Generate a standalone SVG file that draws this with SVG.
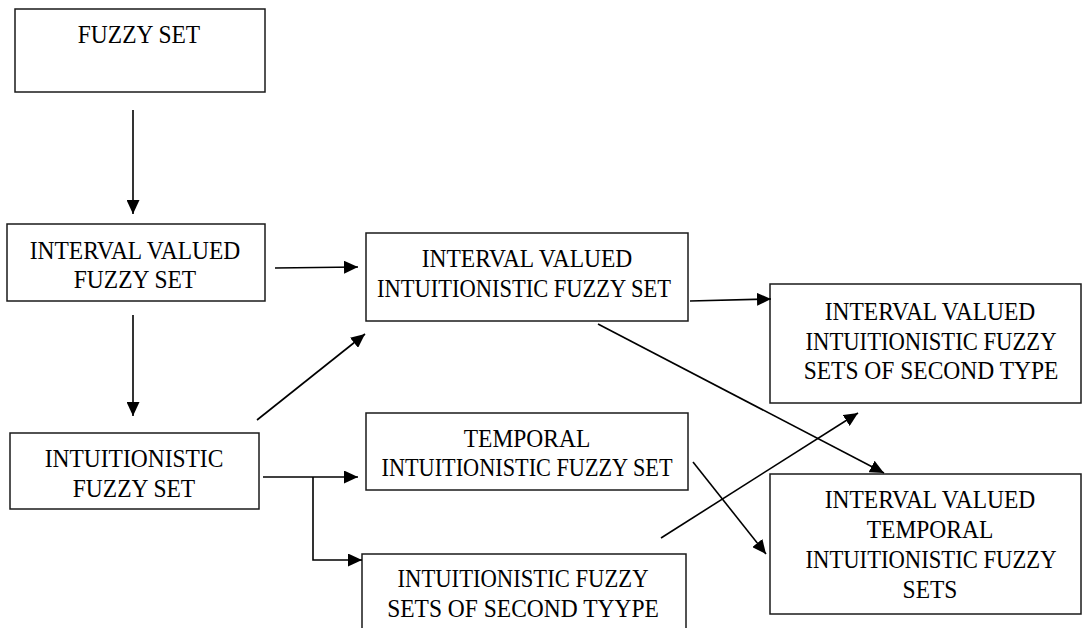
<svg xmlns="http://www.w3.org/2000/svg" width="1083" height="628" viewBox="0 0 1083 628">
<defs>
<marker id="ah" markerUnits="userSpaceOnUse" markerWidth="15" markerHeight="13" refX="14" refY="6.5" orient="auto">
<path d="M0,0 L14,6.5 L0,13 Z" fill="#000"/>
</marker>
<style>
.box{fill:#fff;stroke:#1a1a1a;stroke-width:1.5}
.t{font-family:"Liberation Serif","Times New Roman",serif;font-size:23.5px;fill:#000;text-anchor:middle}
.c{fill:none;stroke:#000;stroke-width:1.6}
.a{fill:none;stroke:#000;stroke-width:1.6;marker-end:url(#ah)}
</style>
</defs>
<rect width="1083" height="628" fill="#fff"/>
<g id="n1">
<rect class="box" x="15" y="9" width="250" height="83"/>
<text class="t" transform="translate(139,43) scale(1,1.1)">FUZZY SET</text>
</g>
<g id="n2">
<rect class="box" x="7" y="224" width="258" height="77"/>
<text class="t" transform="translate(135,259) scale(1,1.1)">INTERVAL VALUED</text>
<text class="t" transform="translate(135,288) scale(1,1.1)">FUZZY SET</text>
</g>
<g id="n3">
<rect class="box" x="10" y="433" width="249" height="76"/>
<text class="t" transform="translate(134,467) scale(1,1.1)">INTUITIONISTIC</text>
<text class="t" transform="translate(134,497) scale(1,1.1)">FUZZY SET</text>
</g>
<g id="n4">
<rect class="box" x="366" y="233" width="322" height="88"/>
<text class="t" transform="translate(527,267) scale(1,1.1)">INTERVAL VALUED</text>
<text class="t" transform="translate(524,297) scale(1,1.1)" textLength="294" lengthAdjust="spacingAndGlyphs">INTUITIONISTIC FUZZY SET</text>
</g>
<g id="n5">
<rect class="box" x="770" y="284" width="311" height="119"/>
<text class="t" transform="translate(930,320) scale(1,1.1)">INTERVAL VALUED</text>
<text class="t" transform="translate(931,350) scale(1,1.1)" textLength="251" lengthAdjust="spacingAndGlyphs">INTUITIONISTIC FUZZY</text>
<text class="t" transform="translate(931,379) scale(1,1.1)">SETS OF SECOND TYPE</text>
</g>
<g id="n6">
<rect class="box" x="770" y="474" width="311" height="140"/>
<text class="t" transform="translate(930,508) scale(1,1.1)">INTERVAL VALUED</text>
<text class="t" transform="translate(930,538) scale(1,1.1)">TEMPORAL</text>
<text class="t" transform="translate(931,568) scale(1,1.1)" textLength="251" lengthAdjust="spacingAndGlyphs">INTUITIONISTIC FUZZY</text>
<text class="t" transform="translate(930,598) scale(1,1.1)">SETS</text>
</g>
<g id="n7">
<rect class="box" x="366" y="413" width="322" height="77"/>
<text class="t" transform="translate(527,447) scale(1,1.1)">TEMPORAL</text>
<text class="t" transform="translate(527,476) scale(1,1.1)" textLength="291" lengthAdjust="spacingAndGlyphs">INTUITIONISTIC FUZZY SET</text>
</g>
<g id="n8">
<rect class="box" x="362" y="554" width="324" height="90"/>
<text class="t" transform="translate(523,587) scale(1,1.1)" textLength="251" lengthAdjust="spacingAndGlyphs">INTUITIONISTIC FUZZY</text>
<text class="t" transform="translate(523,617) scale(1,1.1)">SETS OF SECOND TYYPE</text>
</g>
<g id="connectors">
<line class="a" x1="133" y1="110" x2="133" y2="214"/>
<line class="a" x1="133" y1="315" x2="133" y2="416"/>
<line class="a" x1="275" y1="268" x2="358" y2="267"/>
<line class="a" x1="690" y1="301" x2="771" y2="299"/>
<line class="a" x1="257" y1="420" x2="365" y2="334"/>
<line class="a" x1="263" y1="477" x2="358" y2="477"/>
<polyline class="a" points="313,477 313,560 362,560"/>
<line class="a" x1="598" y1="324" x2="884" y2="473"/>
<line class="a" x1="693" y1="462" x2="766" y2="554"/>
<line class="a" x1="661" y1="538" x2="858" y2="413"/>
</g>
</svg>
